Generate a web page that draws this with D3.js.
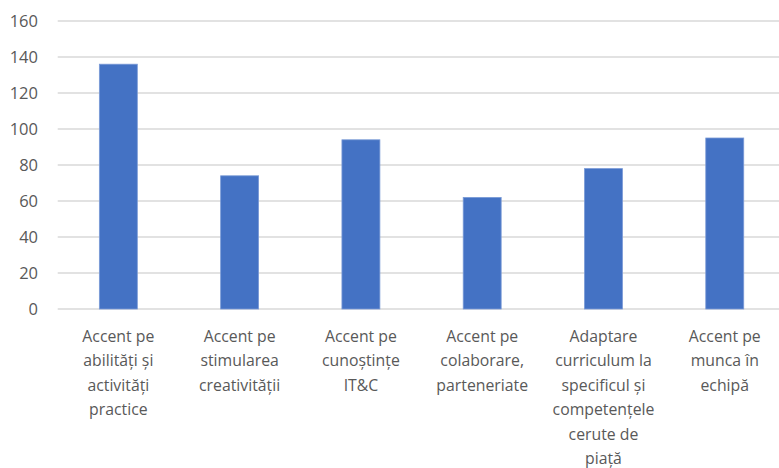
<!DOCTYPE html>
<html>
<head>
<meta charset="utf-8">
<script src="https://cdn.jsdelivr.net/npm/d3@7"></script>
<style>
  html, body { margin: 0; padding: 0; background: #fff; }
  svg { display: block; }
  text { font-family: "Open Sans", Lato, sans-serif; fill: #595959; }
</style>
</head>
<body>
<svg id="chart" width="779" height="468"></svg>
<script>
// Category labels, already broken into lines
const categories = [
  ["Accent pe", "abilități și", "activități", "practice"],
  ["Accent pe", "stimularea", "creativității"],
  ["Accent pe", "cunoștințe", "IT&C"],
  ["Accent pe", "colaborare,", "parteneriate"],
  ["Adaptare", "curriculum la", "specificul și", "competențele", "cerute de", "piață"],
  ["Accent pe", "munca în", "echipă"]
];
const values = [136, 74, 94, 62, 78, 95];
const yTicks = [0, 20, 40, 60, 80, 100, 120, 140, 160];

const svg = d3.select("#chart");
const plotLeft = 57.7, plotRight = 785.4, plotTop = 21, plotBottom = 309;

const x = d3.scaleBand()
  .domain(d3.range(categories.length))
  .range([plotLeft, plotRight])
  .paddingInner(0.687)
  .paddingOuter(0.3435);

const y = d3.scaleLinear().domain([0, 160]).range([plotBottom, plotTop]);

// horizontal gridlines
svg.append("g")
  .selectAll("line")
  .data(yTicks)
  .join("line")
  .attr("x1", plotLeft)
  .attr("x2", plotRight)
  .attr("y1", d => y(d))
  .attr("y2", d => y(d))
  .attr("stroke", "#D9D9D9")
  .attr("stroke-width", 1.3);

// y tick labels
svg.append("g")
  .selectAll("text")
  .data(yTicks)
  .join("text")
  .attr("x", 38)
  .attr("y", d => y(d))
  .attr("dy", "0.36em")
  .attr("text-anchor", "end")
  .style("font-size", "16.5px")
  .text(d => d);

// bars
svg.append("g")
  .selectAll("rect")
  .data(values)
  .join("rect")
  .attr("x", (d, i) => x(i))
  .attr("width", x.bandwidth())
  .attr("y", d => y(d))
  .attr("height", d => y(0) - y(d))
  .attr("fill", "#4472C4")
  .attr("stroke", "#7A9AD6")
  .attr("stroke-width", 0.8);

// category labels
const lab = svg.append("g")
  .selectAll("text")
  .data(categories)
  .join("text")
  .attr("text-anchor", "middle")
  .attr("transform", (d, i) => `translate(${x(i) + x.bandwidth() / 2},341.5)`)
  .style("font-size", "15.8px");

lab.selectAll("tspan")
  .data(d => d)
  .join("tspan")
  .attr("x", 0)
  .attr("y", (d, j) => j * 24.5)
  .text(d => d);
</script>
</body>
</html>
